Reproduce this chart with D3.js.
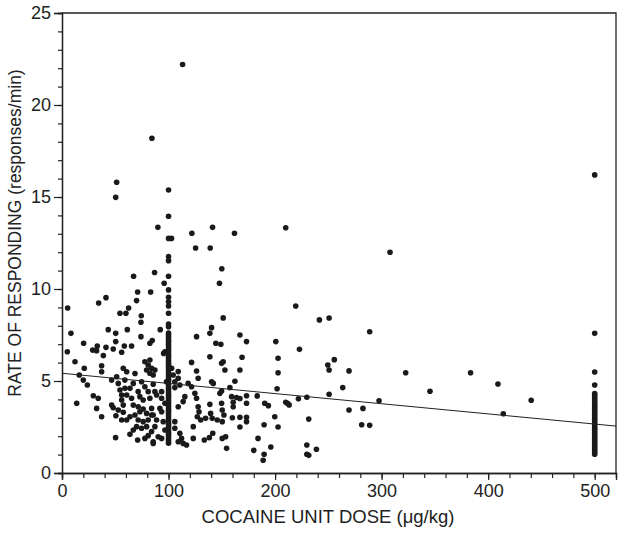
<!DOCTYPE html>
<html>
<head>
<meta charset="utf-8">
<script src="https://cdn.jsdelivr.net/npm/d3@7"></script>
<style>
  html, body { margin: 0; padding: 0; background: #fff; }
  svg { display: block; }
  text { font-family: "Liberation Sans", Arial, Helvetica, sans-serif; fill: #222; }
</style>
</head>
<body>
<svg id="chart" width="624" height="535"></svg>
<script>
// ---- data ----
const xTickValues = [0, 100, 200, 300, 400, 500];
const yTickValues = [0, 5, 10, 15, 20, 25];
const xTitle = "COCAINE UNIT DOSE (\u03bcg/kg)";
const yTitle = "RATE OF RESPONDING (responses/min)";

// individual sessions at doses other than the two stacked columns: [dose, rate]
const scatterPoints = [
  [113.2,22.2],[84.4,18.19],
  [210,13.33],[307.9,12.0],[219.4,9.08],[241.6,8.32],[250.7,8.42],[288.8,7.68],[167,7.5],[173.2,7.14],
  [200.7,7.14],[222.9,6.72],[169,6.29],[202.8,6.24],[167,5.6],[202.8,5.45],[249.5,5.87],[250.7,5.6],
  [255.6,6.16],[269.4,5.55],[322.6,5.45],[383.5,5.45],[409.2,4.84],[345.4,4.44],[263.5,4.64],[201.9,4.58],
  [250.7,4.28],[173.2,4.2],[183.2,4.19],[167,4.05],[221.9,4.03],[229.8,4.12],[210,3.84],[211.6,3.79],
  [213.2,3.7],[190.3,3.79],[193.7,3.66],[173.2,3.79],[297.6,3.93],[440.4,3.95],[269.4,3.42],[282.5,3.51],
  [414.2,3.22],[167,3.03],[173.2,3.03],[173.2,2.79],[199.7,3.06],[231.6,2.93],[167,2.5],[202.8,2.5],
  [189.7,2.62],[281.3,2.62],[288.8,2.59],[184,1.88],[180,1.23],[196,1.41],[229.8,1.52],[238.8,1.29],
  [229.8,1.02],[231.6,0.96],[189.7,1.02],[188.8,0.69],
  [51.3,15.8],[50.4,14.98],[90,13.35],[102.8,12.75],[121.9,13.03],[141.3,13.35],[161.9,13.03],[125.4,12.23],
  [139.1,12.23],[150,11.1],[147.8,10.31],[67.2,10.69],[86.9,10.9],[95.9,10.31],[71,9.84],[83.2,9.84],
  [70,9.37],[41.3,9.53],[34.4,9.24],[5.3,8.97],[62.5,8.97],[54.4,8.68],[60,8.68],[74.4,8.55],[74.1,8.19],
  [151.3,8.43],[140.4,7.9],[138.8,7.59],[8.4,7.59],[43.4,7.79],[50.4,7.59],[61.3,7.79],[74.1,7.41],
  [92.2,7.79],[50.4,7.14],[20.3,7.05],[33.1,6.9],[41.3,6.83],[58.5,6.9],[65.3,6.9],[82.5,7.05],[84.7,7.2],
  [126.3,7.41],[144.4,7.05],[149.1,7.0],
  [5,6.59],[12.2,6.05],[20.9,5.69],[16.2,5.33],[20,5.05],[23.8,4.78],[28.8,6.68],[32.5,6.65],[38.8,6.38],
  [37.2,5.83],[37.2,5.5],[29.4,4.2],[34,4.06],[13.8,3.79],[32.5,3.51],[46.6,5.05],[51.3,5.23],[52.8,4.87],
  [57.5,5.69],[60.7,5.5],[59,5.05],[48.1,6.74],[56,6.56],[77.8,6.05],[80.9,5.87],[84.1,5.69],[79.4,5.6],
  [68.5,5.41],[74.7,4.96],[66.9,4.87],[54.4,4.51],[59.1,4.6],[63.8,4.6],[71.5,4.42],[77.8,4.69],[80.9,4.42],
  [56,4.24],[60.7,4.24],[56,3.97],[65.3,4.06],[73.1,4.15],[76.2,3.97],[57.5,3.69],[66.9,3.69],[71.5,3.6],
  [46.6,3.69],[84.1,3.51],[82.5,4.06],
  [96.6,6.59],[95.4,6.5],[82.5,6.14],[87.2,5.6],[82.5,5.42],[85.6,5.33],[102.9,5.69],[104.4,5.33],
  [109.1,5.51],[109.1,5.15],[98.1,4.96],[105.9,4.96],[110.6,4.78],[121.6,6.01],[126.3,5.54],[127.8,5.15],
  [118.4,4.87],[121.6,4.69],[138.8,6.32],[140.4,4.96],[142,4.87],[149.8,5.96],[151.3,6.05],[152.9,5.6],
  [162.3,4.99],[148.2,4.33],[149.8,4.46],[157.6,4.64],[159.2,4.15],[163.8,4.1],[85.6,4.82],[87.2,4.42],
  [88.8,4.24],[93.5,4.42],[93.5,4.06],[96.6,3.79],[105.9,4.64],[115.3,4.15],[113.7,3.88],[124.7,4.33],
  [126.3,4.06],[109.1,3.6],[127.8,3.6],[138.8,3.73],[149.8,3.79],[160.7,3.84],[160.7,3.6],[91.9,3.51],
  [37.2,3.06],[48.1,3.55],[52.8,3.42],[57.5,3.3],[50.6,3.11],[56,2.88],[60.7,2.88],[63.8,3.06],[68.5,3.15],
  [73.1,3.33],[76.2,3.48],[79.4,3.24],[84.1,3.15],[71.5,2.88],[76.2,2.79],[80.9,2.88],[70,2.52],[66.9,2.34],
  [63.8,2.1],[74.7,2.43],[79.4,2.52],[80.9,2.03],[77.8,1.88],[71,1.79],[84.1,2.25],[50.3,1.92],[85.6,1.7],
  [85.6,3.15],[88.8,2.88],[87.2,2.52],[93.5,3.33],[95,2.79],[93.5,1.88],[96.6,2.34],[85.6,1.61],[90.3,1.97],
  [105.9,2.79],[105.9,2.43],[110.6,2.16],[112.2,1.88],[113.7,1.61],[116.9,1.52],[109.1,1.7],[123.2,1.88],
  [133.6,1.79],[138.3,1.92],[141.5,2.16],[128.6,3.33],[127,3.06],[130.2,2.88],[134.8,2.97],[139.5,3.24],
  [141,2.97],[145.7,2.88],[150.4,3.42],[152,3.15],[150.4,2.79],[159.9,3.0],[154.5,1.34],[150.4,1.88],
  [153.6,1.97],[123.2,2.52]
];

// sessions at the 100 ug/kg dose (stacked column)
const dose100 = 100;
const rates100 = [1.62,1.74,1.85,1.98,2.1,2.22,2.35,2.47,2.6,2.71,2.84,2.96,3.1,3.22,3.35,3.47,3.6,3.72,3.85,
  3.97,4.1,4.22,4.35,4.48,4.6,4.73,4.85,4.98,5.1,5.22,5.35,5.47,5.6,5.72,5.85,5.97,6.1,6.22,6.35,6.47,6.6,
  6.72,6.85,6.97,7.1,7.22,7.35,7.47,7.6,7.95,8.1,8.68,9.08,9.31,9.55,9.95,10.69,11.54,11.76,12.75,13.95,15.38];

// sessions at the 500 ug/kg dose (stacked column)
const dose500 = 500;
const rates500 = [1.02,1.12,1.22,1.32,1.42,1.52,1.62,1.72,1.82,1.92,2.02,2.12,2.22,2.32,2.42,2.52,2.62,2.72,
  2.82,2.92,3.02,3.12,3.22,3.32,3.42,3.52,3.62,3.72,3.82,3.92,4.02,4.12,4.22,4.32,4.78,5.49,7.59,16.2];

// fitted regression line endpoints [dose, rate]
const fitLine = [[0, 5.42], [520, 2.55]];

// ---- drawing ----
const W = 624, H = 535;
const plot = { left: 62, right: 616, top: 13, bottom: 473 };
const svg = d3.select("#chart");
svg.append("rect").attr("width", W).attr("height", H).attr("fill", "#fff");

const x = d3.scaleLinear().domain([0, 520]).range([plot.left, plot.right]);
const y = d3.scaleLinear().domain([0, 25]).range([plot.bottom, plot.top]);
const ink = "#222";

// points
const allPoints = scatterPoints
  .concat(rates100.map(r => [dose100, r]))
  .concat(rates500.map(r => [dose500, r]));

svg.append("g").selectAll("circle").data(allPoints).join("circle")
  .attr("cx", d => x(d[0])).attr("cy", d => y(d[1]))
  .attr("r", 2.8).attr("fill", "#1a1a1a");

// regression line
svg.append("path")
  .attr("d", d3.line().x(d => x(d[0])).y(d => y(d[1]))(fitLine))
  .attr("stroke", ink).attr("stroke-width", 1).attr("fill", "none");

// frame (top & right)
svg.append("path")
  .attr("d", `M${plot.left},${plot.top}H${plot.right}V${plot.bottom}`)
  .attr("stroke", ink).attr("stroke-width", 1.3).attr("fill", "none");

// axes
function styleAxis(g) {
  g.select(".domain").attr("stroke", ink).attr("stroke-width", 1.3);
  g.selectAll(".tick line").attr("stroke", ink).attr("stroke-width", 1.2);
  g.selectAll(".tick text").attr("fill", ink)
    .style("font-family", '"Liberation Sans", Arial, sans-serif').style("font-size", "18px");
}

const xMinor = d3.range(0, 521, 20);
svg.append("g").attr("transform", `translate(0,${plot.bottom})`)
  .call(d3.axisBottom(x).tickValues(xMinor).tickSize(5).tickFormat(""))
  .call(styleAxis);
svg.append("g").attr("transform", `translate(0,${plot.bottom})`)
  .call(d3.axisBottom(x).tickValues(xTickValues).tickSize(7).tickPadding(4).tickFormat(d3.format("d")))
  .call(styleAxis);

const yMinor = d3.range(0, 26, 1);
svg.append("g").attr("transform", `translate(${plot.left},0)`)
  .call(d3.axisLeft(y).tickValues(yMinor).tickSize(4).tickFormat(""))
  .call(styleAxis);
svg.append("g").attr("transform", `translate(${plot.left},0)`)
  .call(d3.axisLeft(y).tickValues(yTickValues).tickSize(8).tickPadding(3).tickFormat(d3.format("d")))
  .call(styleAxis);

// titles
svg.append("text")
  .attr("x", 328).attr("y", 523)
  .attr("text-anchor", "middle").style("font-size", "18.5px")
  .text(xTitle);

svg.append("text")
  .attr("transform", `translate(21,233) rotate(-90)`)
  .attr("text-anchor", "middle").style("font-size", "17.5px")
  .text(yTitle);
</script>
</body>
</html>
